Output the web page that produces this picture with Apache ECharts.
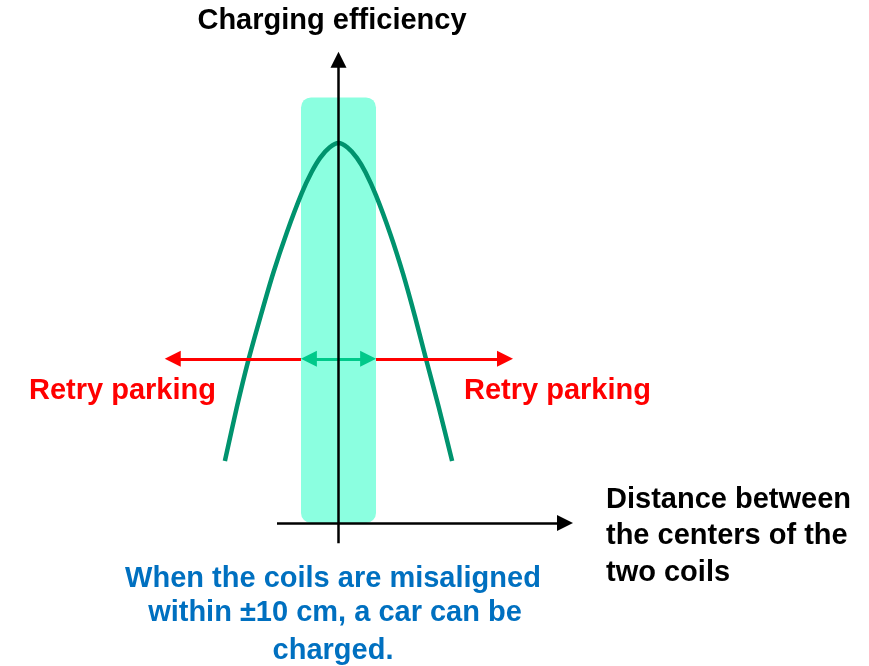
<!DOCTYPE html>
<html>
<head>
<meta charset="utf-8">
<script src="https://cdn.jsdelivr.net/npm/echarts@6/dist/echarts.min.js"></script>
<style>
  html, body { margin: 0; padding: 0; background: #fff; }
  #chart { width: 869px; height: 666px; }
</style>
</head>
<body>
<div id="chart"></div>
<script>
// misalignment (cm) and relative charging efficiency
const curveX = [-30.3, -27.1, -24.1, -20.9, -17.4, -13.8, -9.8, -7.2, -4.9, -2.4, 0, 2.4, 4.9, 7.2, 10.0, 13.9, 17.2, 20.4, 23.4, 26.7, 30.3];
const curveY = [16.3, 30.5, 42.6, 54.0, 65.8, 76.4, 86.8, 92.3, 96.1, 98.8, 100, 98.8, 96.1, 92.3, 86.2, 75.8, 65.6, 54.3, 42.9, 30.6, 16.3];

// chargeable zone (±10 cm)
const bandX = [-10, 10];
const bandY = [0, 112];

// arrows
const arrowLevel = 43.2;
const okSpan = [-7.9, 7.9];
const retryLeft = [-10, -44.2];
const retryRight = [10, 44.4];

// axis lines
const xAxisSpan = [-16.4, 60.4];
const yAxisSpan = [-5.3, 121.9];

var myChart = echarts.init(document.getElementById('chart'));

var font = 'bold 29px "Liberation Sans", Arial, sans-serif';

var option = {
  animation: false,
  grid: { left: 1, right: 5.5, top: 10, bottom: 29 },
  xAxis: { type: 'value', min: -90, max: 140, show: false },
  yAxis: { type: 'value', min: -30, max: 135, show: false },
  series: [
    {
      // teal band
      type: 'custom',
      z: 1,
      renderItem: function (params, api) {
        var p0 = api.coord([api.value(0), api.value(3)]);
        var p1 = api.coord([api.value(1), api.value(2)]);
        return {
          type: 'rect',
          shape: { x: p0[0], y: p0[1], width: p1[0] - p0[0], height: p1[1] - p0[1], r: 10 },
          style: { fill: '#8BFFE0' }
        };
      },
      data: [[bandX[0], bandX[1], bandY[0], bandY[1]]]
    },
    {
      type: 'line',
      z: 3,
      smooth: 0.3,
      showSymbol: false,
      lineStyle: { color: '#00936E', width: 4.5 },
      data: curveX.map(function (x, i) { return [x, curveY[i]]; })
    },
    {
      // red arrows
      type: 'lines',
      coordinateSystem: 'cartesian2d',
      z: 4,
      symbol: ['none', 'triangle'],
      symbolSize: 16,
      lineStyle: { color: '#FF0000', width: 3, opacity: 1 },
      data: [
        { coords: [[retryLeft[0], arrowLevel], [retryLeft[1], arrowLevel]] },
        { coords: [[retryRight[0], arrowLevel], [retryRight[1], arrowLevel]] }
      ]
    },
    {
      // green double arrow
      type: 'lines',
      coordinateSystem: 'cartesian2d',
      z: 4,
      symbol: ['triangle', 'triangle'],
      symbolSize: 16,
      lineStyle: { color: '#00C98A', width: 3, opacity: 1 },
      data: [{ coords: [[okSpan[0], arrowLevel], [okSpan[1], arrowLevel]] }]
    },
    {
      // axes
      type: 'lines',
      coordinateSystem: 'cartesian2d',
      z: 5,
      symbol: ['none', 'triangle'],
      symbolSize: 16,
      lineStyle: { color: '#000', width: 2.5, opacity: 1 },
      data: [
        { coords: [[xAxisSpan[0], 0], [xAxisSpan[1], 0]] },
        { coords: [[0, yAxisSpan[0]], [0, yAxisSpan[1]]] }
      ]
    }
  ],
  graphic: [
    { type: 'text', x: 332, y: 21, style: { text: 'Charging efficiency', font: font, fill: '#000', align: 'center', verticalAlign: 'middle' } },
    { type: 'text', x: 29, y: 391, style: { text: 'Retry parking', font: font, fill: '#FF0000', align: 'left', verticalAlign: 'middle' } },
    { type: 'text', x: 464, y: 391, style: { text: 'Retry parking', font: font, fill: '#FF0000', align: 'left', verticalAlign: 'middle' } },
    { type: 'text', x: 606, y: 500, style: { text: 'Distance between', font: font, fill: '#000', align: 'left', verticalAlign: 'middle' } },
    { type: 'text', x: 606, y: 536, style: { text: 'the centers of the', font: font, fill: '#000', align: 'left', verticalAlign: 'middle' } },
    { type: 'text', x: 606, y: 573, style: { text: 'two coils', font: font, fill: '#000', align: 'left', verticalAlign: 'middle' } },
    { type: 'text', x: 333, y: 579, style: { text: 'When the coils are misaligned', font: font, fill: '#0070C0', align: 'center', verticalAlign: 'middle' } },
    { type: 'text', x: 335, y: 613, style: { text: 'within \u00B110 cm, a car can be', font: font, fill: '#0070C0', align: 'center', verticalAlign: 'middle' } },
    { type: 'text', x: 333, y: 651, style: { text: 'charged.', font: font, fill: '#0070C0', align: 'center', verticalAlign: 'middle' } }
  ]
};

myChart.setOption(option);
</script>
</body>
</html>
